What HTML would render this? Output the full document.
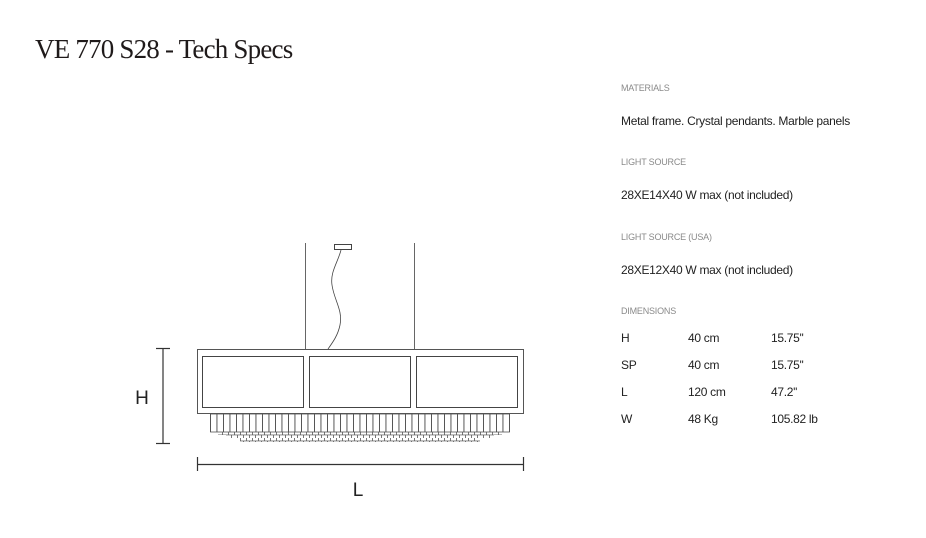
<!DOCTYPE html>
<html><head><meta charset="utf-8"><style>
html,body{margin:0;padding:0;background:#fff;width:926px;height:538px;overflow:hidden;position:relative}
.t{position:absolute;white-space:nowrap;line-height:1}
.ttl{font-family:"Liberation Serif",serif;font-size:27px;color:#1f1a1a;left:35px;top:36px;letter-spacing:-0.8px}
.lab{font-family:"Liberation Sans",sans-serif;font-size:9px;color:#8a8a8a;left:621px;letter-spacing:-0.2px}
.val{font-family:"Liberation Sans",sans-serif;font-size:12px;color:#222;letter-spacing:-0.3px}
</style></head><body>
<div class="t ttl">VE 770 S28 - Tech Specs</div>
<div class="t lab" style="top:84px">MATERIALS</div>
<div class="t val" style="left:621px;top:115px">Metal frame. Crystal pendants. Marble panels</div>
<div class="t lab" style="top:158px">LIGHT SOURCE</div>
<div class="t val" style="left:621px;top:189px">28XE14X40 W max (not included)</div>
<div class="t lab" style="top:233px">LIGHT SOURCE (USA)</div>
<div class="t val" style="left:621px;top:264px">28XE12X40 W max (not included)</div>
<div class="t lab" style="top:307px">DIMENSIONS</div>
<div class="t val" style="left:621px;top:332px">H</div><div class="t val" style="left:688px;top:332px">40 cm</div><div class="t val" style="left:771px;top:332px">15.75''</div>
<div class="t val" style="left:621px;top:359px">SP</div><div class="t val" style="left:688px;top:359px">40 cm</div><div class="t val" style="left:771px;top:359px">15.75''</div>
<div class="t val" style="left:621px;top:386px">L</div><div class="t val" style="left:688px;top:386px">120 cm</div><div class="t val" style="left:771px;top:386px">47.2''</div>
<div class="t val" style="left:621px;top:413px">W</div><div class="t val" style="left:688px;top:413px">48 Kg</div><div class="t val" style="left:771px;top:413px">105.82 lb</div>
<svg width="926" height="538" style="position:absolute;left:0;top:0">
<defs>
<pattern id="vl" x="210" y="0" width="6.5" height="20" patternUnits="userSpaceOnUse"><rect x="0" y="0" width="0.9" height="20" fill="#444"/></pattern>
<pattern id="br" x="0" y="432" width="6" height="6" patternUnits="userSpaceOnUse"><rect x="0" y="0" width="0.8" height="3" fill="#555"/><rect x="3" y="3" width="0.8" height="3" fill="#555"/><rect x="0" y="2.6" width="6" height="0.7" fill="#555"/></pattern>
</defs>
<g fill="none" stroke="#666" stroke-width="1">
<line x1="305.5" y1="243" x2="305.5" y2="349"/>
<line x1="414.5" y1="243" x2="414.5" y2="349"/>
<rect x="334.5" y="244.5" width="17" height="5" stroke="#444"/>
<path d="M341 250 C338 262,330 272,332 285 C334 300,343 310,340 325 C338 335,333 342,328 349" stroke="#444" stroke-width="0.8"/>
<rect x="197.5" y="349.5" width="326" height="64" stroke="#555"/>
<rect x="202.5" y="356.5" width="101" height="51" stroke="#444"/>
<rect x="309.5" y="356.5" width="101" height="51" stroke="#444"/>
<rect x="416.5" y="356.5" width="101" height="51" stroke="#444"/>
</g>
<rect x="210" y="414" width="300" height="18" fill="url(#vl)"/>
<rect x="210.5" y="414" width="299" height="18" fill="none" stroke="#555" stroke-width="0.8"/>
<rect x="218" y="432" width="284" height="3" fill="url(#br)"/>
<rect x="226" y="435" width="268" height="3" fill="url(#br)"/>
<rect x="240" y="438" width="240" height="4" fill="url(#br)"/>
<g stroke="#333" stroke-width="1.2">
<line x1="163" y1="348" x2="163" y2="443"/>
<line x1="156" y1="348.5" x2="170" y2="348.5"/>
<line x1="156" y1="443.5" x2="170" y2="443.5"/>
<line x1="197" y1="464.5" x2="523" y2="464.5"/>
<line x1="197.5" y1="457" x2="197.5" y2="471"/>
<line x1="523.5" y1="457" x2="523.5" y2="471"/>
</g>
<text x="142" y="404" font-family="Liberation Sans,sans-serif" font-size="19" fill="#222" text-anchor="middle">H</text>
<text x="358" y="496" font-family="Liberation Sans,sans-serif" font-size="19" fill="#222" text-anchor="middle">L</text>
</svg>
</body></html>
